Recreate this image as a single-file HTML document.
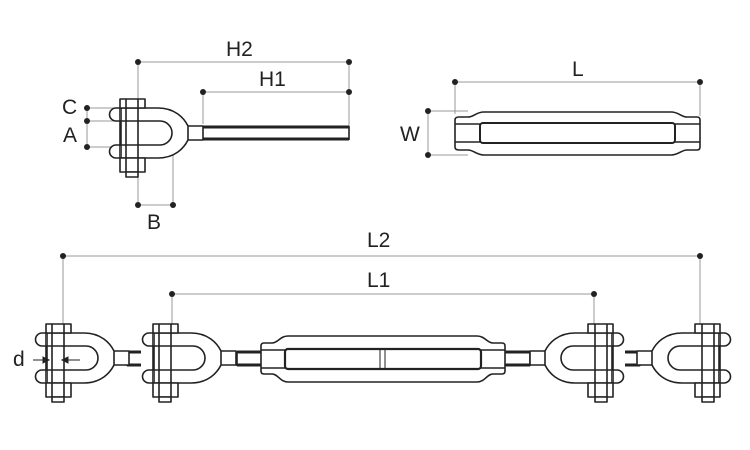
<!DOCTYPE html>
<html><head><meta charset="utf-8"><style>
html,body{margin:0;padding:0;background:#fff;}
svg{display:block}
text{font-family:"Liberation Sans","DejaVu Sans",sans-serif;font-size:21px;fill:#222;}
</style></head><body>
<svg width="750" height="450" viewBox="0 0 750 450" xmlns="http://www.w3.org/2000/svg">
<defs>
<g id="jaw" stroke="#222" stroke-width="1.6" fill="#fff" stroke-linejoin="round">
  <path d="M183,126 L203,126 L203,140 L183,140"/>
  <path d="M121,108 L158,108 C175,108 184,118 188,126 L188,140 C184,148 175,158 158,158 L121,158 Z"/>
  <path d="M121,108 L116,108 A6.5,6.5 0 0 0 116,121 L121,121"/>
  <path d="M121,145 L116,145 A6.5,6.5 0 0 0 116,158 L121,158"/>
  <path d="M121,121 L160,121 A12,12 0 0 1 160,145 L121,145 Z"/>
  <rect x="120" y="99" width="25" height="9"/>
  <rect x="120" y="158" width="25" height="14"/>
  <rect x="126" y="172" width="12" height="5"/>
  <line x1="126" y1="99" x2="126" y2="172"/>
  <line x1="138" y1="99" x2="138" y2="172"/>
  <line x1="120" y1="108" x2="120" y2="158"/>
</g>
</defs>

<g stroke="#999" stroke-width="1" fill="none">
  <line x1="138" y1="62" x2="349" y2="62"/>
  <line x1="203" y1="92" x2="349" y2="92"/>
  <line x1="138" y1="62" x2="138" y2="99"/>
  <line x1="349" y1="62" x2="349" y2="126"/>
  <line x1="203" y1="92" x2="203" y2="124"/>
  <line x1="87" y1="108" x2="114" y2="108"/>
  <line x1="87" y1="121" x2="114" y2="121"/>
  <line x1="87" y1="147" x2="114" y2="147"/>
  <line x1="87" y1="108" x2="87" y2="147"/>
  <line x1="138" y1="205" x2="173" y2="205"/>
  <line x1="138" y1="177" x2="138" y2="205"/>
  <line x1="173" y1="146" x2="173" y2="205"/>
  <line x1="455" y1="82" x2="700" y2="82"/>
  <line x1="455" y1="82" x2="455" y2="114"/>
  <line x1="700" y1="82" x2="700" y2="116"/>
  <line x1="428" y1="111" x2="468" y2="111"/>
  <line x1="428" y1="155" x2="468" y2="155"/>
  <line x1="428" y1="111" x2="428" y2="155"/>
  <line x1="63" y1="256" x2="700" y2="256"/>
  <line x1="63" y1="256" x2="63" y2="325"/>
  <line x1="700" y1="256" x2="700" y2="325"/>
  <line x1="172" y1="294" x2="594" y2="294"/>
  <line x1="172" y1="294" x2="172" y2="325"/>
  <line x1="594" y1="294" x2="594" y2="325"/>
</g>
<g fill="#222">
  <circle cx="138" cy="62" r="3"/><circle cx="349" cy="62" r="3"/>
  <circle cx="203" cy="92" r="3"/><circle cx="349" cy="92" r="3"/>
  <circle cx="87" cy="108" r="3"/><circle cx="87" cy="121" r="3"/><circle cx="87" cy="147" r="3"/>
  <circle cx="138" cy="205" r="3"/><circle cx="173" cy="205" r="3"/>
  <circle cx="455" cy="82" r="3"/><circle cx="700" cy="82" r="3"/>
  <circle cx="428" cy="111" r="3"/><circle cx="428" cy="155" r="3"/>
  <circle cx="63" cy="256" r="3"/><circle cx="700" cy="256" r="3"/>
  <circle cx="172" cy="294" r="3"/><circle cx="594" cy="294" r="3"/>
</g>

<text x="226" y="56">H2</text>
<text x="259" y="86">H1</text>
<text x="62" y="114">C</text>
<text x="63" y="142">A</text>
<text x="147" y="229">B</text>
<text x="572" y="76">L</text>
<text x="400" y="141">W</text>
<text x="367" y="247">L2</text>
<text x="367" y="287">L1</text>
<text x="13" y="366">d</text>

<use href="#jaw"/>
<g stroke="#222" fill="none">
  <line x1="203" y1="127" x2="349" y2="127" stroke-width="3"/>
  <line x1="203" y1="139" x2="349" y2="139" stroke-width="3"/>
  <line x1="349" y1="126" x2="349" y2="140" stroke-width="1.6"/>
</g>

<g stroke="#222" stroke-width="1.6" fill="#fff">
  <path d="M459,117 L468,117 C474,117 476,112 484,112 L671,112 C679,112 681,117 687,117 L697,117 Q700,117 700,120 L700,147 Q700,150 697,150 L687,150 C681,150 679,155 671,155 L484,155 C476,155 474,150 468,150 L459,150 Q455,150 455,147 L455,120 Q455,117 459,117 Z"/>
  <line x1="455" y1="124" x2="480" y2="124"/>
  <line x1="455" y1="142" x2="480" y2="142"/>
  <line x1="675" y1="124" x2="700" y2="124"/>
  <line x1="675" y1="142" x2="700" y2="142"/>
  <rect x="480" y="123" width="195" height="20" rx="3" stroke-width="2"/>
</g>

<g stroke="#222" stroke-width="3">
  <line x1="127" y1="352" x2="141" y2="352"/><line x1="127" y1="365" x2="141" y2="365"/>
  <line x1="237" y1="352" x2="262" y2="352"/><line x1="237" y1="365" x2="262" y2="365"/>
  <line x1="505" y1="352" x2="530" y2="352"/><line x1="505" y1="365" x2="530" y2="365"/>
  <line x1="625" y1="352" x2="640" y2="352"/><line x1="625" y1="365" x2="640" y2="365"/>
</g>
<g stroke="#222" stroke-width="1.6">
  <line x1="127" y1="351" x2="127" y2="366"/>
  <line x1="237" y1="351" x2="237" y2="366"/>
  <line x1="530" y1="351" x2="530" y2="366"/>
  <line x1="640" y1="351" x2="640" y2="366"/>
</g>

<use href="#jaw" transform="translate(-74,225)"/>
<use href="#jaw" transform="translate(33,225)"/>
<use href="#jaw" transform="translate(733,225) scale(-1,1)"/>
<use href="#jaw" transform="translate(840,225) scale(-1,1)"/>

<g stroke="#222" stroke-width="1.6" fill="#fff">
  <path d="M264,343 L272,343 C278,343 280,336 288,336 L477,336 C485,336 487,343 493,343 L502,343 Q505,343 505,346 L505,371 Q505,374 502,374 L493,374 C487,374 485,382 477,382 L288,382 C280,382 278,374 272,374 L264,374 Q261,374 261,371 L261,346 Q261,343 264,343 Z"/>
  <line x1="261" y1="350" x2="285" y2="350"/>
  <line x1="261" y1="368" x2="285" y2="368"/>
  <line x1="481" y1="350" x2="505" y2="350"/>
  <line x1="481" y1="368" x2="505" y2="368"/>
  <rect x="285" y="349" width="196" height="20" rx="3" stroke-width="2.2"/>
  <line x1="380" y1="350" x2="380" y2="368" stroke-width="1"/>
  <line x1="385" y1="350" x2="385" y2="368" stroke-width="1"/>
</g>

<g stroke="#222" stroke-width="1" fill="#222">
  <line x1="33" y1="360" x2="45" y2="360"/>
  <path d="M49,360 L43,357 L43,363 Z"/>
  <line x1="66" y1="360" x2="80" y2="360"/>
  <path d="M62,360 L68,357 L68,363 Z"/>
</g>
</svg>
</body></html>
